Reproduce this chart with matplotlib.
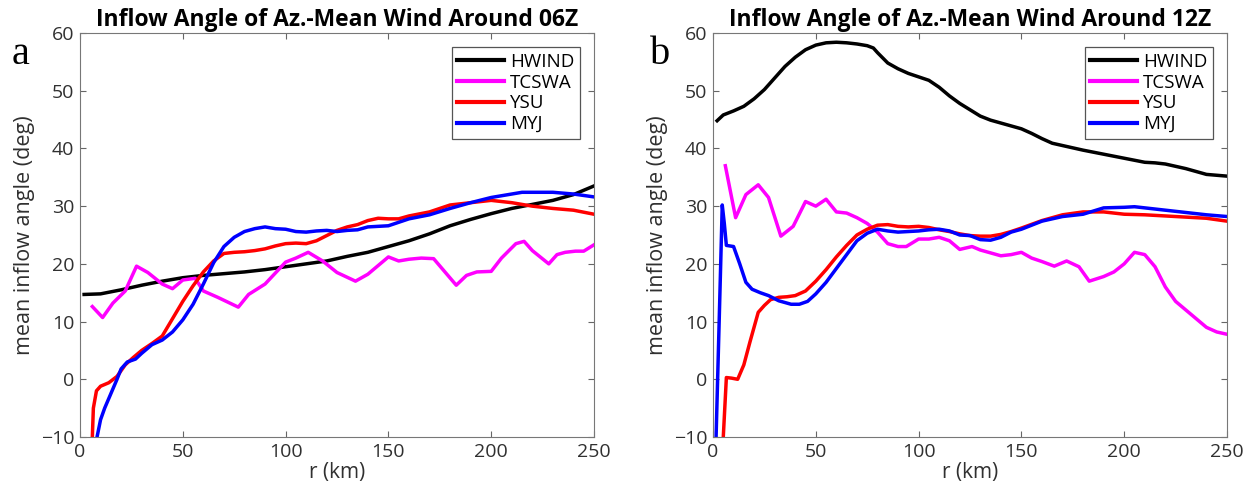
import matplotlib
matplotlib.use('Agg')
import matplotlib.pyplot as plt
import numpy as np

plt.rcParams['font.family'] = ['Open Sans', 'DejaVu Sans']

# ---- panel a (06Z) ----
r_hw_a = [2, 10, 20, 30, 40, 50, 60, 70, 80, 90, 100, 110, 120, 130, 140, 150, 160,
          170, 180, 190, 200, 210, 220, 230, 240, 250]
hw_a = [14.7, 14.8, 15.5, 16.3, 17.0, 17.6, 18.0, 18.3, 18.6, 19.0, 19.5, 20.0, 20.5,
        21.3, 22.0, 23.0, 24.0, 25.2, 26.6, 27.7, 28.7, 29.6, 30.3, 31.0, 32.0, 33.5]

r_tc_a = [6, 11, 16, 22, 27.5, 33, 40, 45, 50, 56, 60, 67, 77, 82, 90, 100, 105, 111,
          118, 125, 134, 140, 150, 155, 160, 166, 172, 183, 188, 193, 200, 205, 212,
          216, 220, 228, 232, 236, 241, 245, 250]
tc_a = [12.6, 10.7, 13.2, 15.3, 19.6, 18.5, 16.5, 15.7, 17.2, 17.5, 15.3, 14.2, 12.5,
        14.7, 16.5, 20.3, 21.0, 22.0, 20.5, 18.5, 17.0, 18.2, 21.2, 20.5, 20.8, 21.0,
        20.9, 16.3, 18.0, 18.6, 18.7, 21.0, 23.5, 23.9, 22.3, 20.0, 21.6, 22.0, 22.2,
        22.2, 23.3]

r_ysu_a = [6, 6.5, 8, 10, 14, 18, 22, 26, 30, 35, 40, 45, 50, 55, 60, 65, 70, 75, 80,
           85, 90, 95, 100, 105, 110, 115, 120, 125, 130, 135, 140, 145, 150, 155, 160,
           170, 180, 190, 200, 210, 220, 230, 240, 250]
ysu_a = [-10, -5, -2, -1.2, -0.6, 0.5, 2.5, 3.8, 5.0, 6.2, 7.5, 10.5, 13.5, 16.2, 18.6,
         20.5, 21.8, 22.0, 22.1, 22.3, 22.6, 23.1, 23.5, 23.6, 23.5, 24.0, 24.9, 25.8,
         26.4, 26.8, 27.5, 27.9, 27.8, 27.8, 28.3, 29.0, 30.2, 30.6, 31.0, 30.6, 30.0,
         29.6, 29.3, 28.6]

r_myj_a = [8, 10, 12, 15, 18, 20, 23, 27, 30, 35, 40, 45, 50, 55, 60, 65, 70, 75, 80,
           85, 90, 95, 100, 105, 110, 115, 120, 125, 130, 135, 140, 150, 160, 170, 180,
           190, 200, 210, 215, 230, 240, 250]
myj_a = [-10.5, -7, -5, -2.5, 0, 1.8, 3.0, 3.5, 4.5, 6.0, 6.8, 8.2, 10.3, 13.0, 16.5,
         20.2, 23.0, 24.6, 25.6, 26.1, 26.4, 26.1, 26.0, 25.6, 25.5, 25.7, 25.8, 25.6,
         25.8, 25.9, 26.4, 26.6, 27.8, 28.5, 29.6, 30.6, 31.5, 32.1, 32.4, 32.4, 32.1,
         31.6]

# ---- panel b (12Z) ----
r_hw_b = [2, 5, 10, 15, 20, 25, 30, 35, 40, 45, 50, 55, 60, 65, 70, 75, 78, 80, 85, 90,
          95, 100, 105, 110, 115, 120, 125, 130, 135, 140, 145, 150, 155, 160, 165, 170,
          175, 180, 190, 200, 210, 215, 220, 230, 240, 250]
hw_b = [44.8, 45.8, 46.5, 47.3, 48.6, 50.2, 52.2, 54.2, 55.8, 57.1, 57.9, 58.3, 58.4,
        58.3, 58.1, 57.8, 57.4, 56.6, 54.8, 53.8, 53.0, 52.4, 51.8, 50.6, 49.1, 47.8,
        46.7, 45.6, 44.9, 44.4, 43.9, 43.4, 42.6, 41.7, 40.9, 40.5, 40.1, 39.7, 39.0,
        38.3, 37.6, 37.5, 37.3, 36.5, 35.5, 35.2]

r_tc_b = [6, 11, 16, 22, 27, 33, 39, 45, 50, 55, 60, 65, 70, 75, 80, 85, 90, 94, 100,
          105, 110, 115, 120, 126, 130, 140, 145, 150, 155, 160, 166, 172, 178, 183,
          190, 195, 200, 205, 210, 215, 220, 225, 230, 235, 240, 245, 250]
tc_b = [37.0, 28.0, 32.0, 33.7, 31.5, 24.8, 26.5, 30.8, 30.0, 31.2, 29.0, 28.8, 28.0,
        27.0, 25.5, 23.5, 23.0, 23.0, 24.3, 24.3, 24.6, 24.0, 22.5, 23.0, 22.4, 21.4,
        21.6, 22.0, 21.0, 20.4, 19.6, 20.5, 19.5, 17.0, 17.8, 18.6, 20.0, 22.0, 21.6,
        19.5, 16.0, 13.5, 12.0, 10.5, 9.0, 8.2, 7.8]

r_ysu_b = [5, 6.5, 9, 12, 15, 18, 22, 25, 28, 32, 36, 40, 45, 50, 55, 60, 65, 70, 75,
           80, 85, 90, 95, 100, 105, 110, 115, 120, 125, 130, 135, 140, 145, 150, 160,
           170, 180, 190, 200, 210, 220, 230, 240, 250]
ysu_b = [-10, 0.3, 0.2, 0.0, 2.5, 6.5, 11.6, 12.8, 13.8, 14.2, 14.3, 14.5, 15.3, 17.0,
         19.0, 21.2, 23.2, 25.0, 26.0, 26.7, 26.8, 26.5, 26.4, 26.5, 26.3, 25.9, 25.6,
         25.2, 24.9, 24.8, 24.8, 25.1, 25.6, 26.2, 27.5, 28.5, 29.0, 29.0, 28.6, 28.5,
         28.3, 28.1, 27.9, 27.4]

r_myj_b = [1.5, 3, 4.5, 5.5, 6.5, 10, 13, 16, 19, 23, 27, 32, 38, 42, 46, 50, 55, 60,
           65, 70, 75, 80, 85, 90, 100, 105, 110, 115, 120, 125, 130, 135, 140, 145,
           150, 160, 170, 180, 190, 200, 205, 210, 220, 230, 240, 250]
myj_b = [-10, 10, 30.2, 27, 23.2, 23.0, 20.0, 16.8, 15.6, 15.0, 14.5, 13.6, 13.0, 13.0,
         13.5, 14.8, 16.8, 19.2, 21.6, 24.0, 25.3, 26.0, 25.7, 25.5, 25.7, 25.9, 26.0,
         25.7, 25.0, 24.9, 24.2, 24.1, 24.6, 25.5, 26.0, 27.4, 28.2, 28.6, 29.7, 29.8,
         29.9, 29.7, 29.3, 28.9, 28.5, 28.2]

labels = ['HWIND', 'TCSWA', 'YSU', 'MYJ']
colors = ['black', '#ff00ff', '#ff0000', '#0000ff']

panels = [
    ('a', 'Inflow Angle of Az.-Mean Wind Around 06Z',
     [(r_hw_a, hw_a), (r_tc_a, tc_a), (r_ysu_a, ysu_a), (r_myj_a, myj_a)]),
    ('b', 'Inflow Angle of Az.-Mean Wind Around 12Z',
     [(r_hw_b, hw_b), (r_tc_b, tc_b), (r_ysu_b, ysu_b), (r_myj_b, myj_b)]),
]

fig = plt.figure(figsize=(12.56, 4.94), dpi=100)
lefts = [80 / 1256, 713 / 1256]
letter_x = [12 / 1256, 650 / 1256]
for (letter, title, series), left, lx in zip(panels, lefts, letter_x):
    ax = fig.add_axes([left, 57 / 494, 514 / 1256, 404 / 494])
    for (r, v), lab, c in zip(series, labels, colors):
        ax.plot(r, v, color=c, lw=2.5, label=lab)
    ax.set_xlim(0, 250)
    ax.set_ylim(-10, 60)
    ax.set_xticks(np.arange(0, 251, 50))
    ax.set_yticks(np.arange(-10, 61, 10))
    ax.tick_params(direction='in', top=True, right=True, labelsize=14,
                   labelcolor='#303030', color='#666666', length=4, pad=4)
    for s in ax.spines.values():
        s.set_color('#777777')
        s.set_linewidth(0.8)
    ax.set_xlabel('r (km)', fontsize=15, color='#303030', labelpad=1)
    ax.set_ylabel('mean inflow angle (deg)', fontsize=15.5, color='#303030', labelpad=4)
    ax.set_title(title, fontsize=16.5, fontweight='bold', pad=5)
    leg = ax.legend(loc='upper right', fontsize=13.5, fancybox=False, edgecolor='#555555',
                    handlelength=2.5, borderpad=0.3, labelspacing=0.15, handletextpad=0.3,
                    borderaxespad=0.75, framealpha=1)
    leg.get_frame().set_linewidth(0.9)
    for line in leg.get_lines():
        line.set_linewidth(3)
    fig.text(lx, 0.89, letter, fontsize=29, family='Liberation Serif', va='center')

fig.savefig('out.png', dpi=100)
